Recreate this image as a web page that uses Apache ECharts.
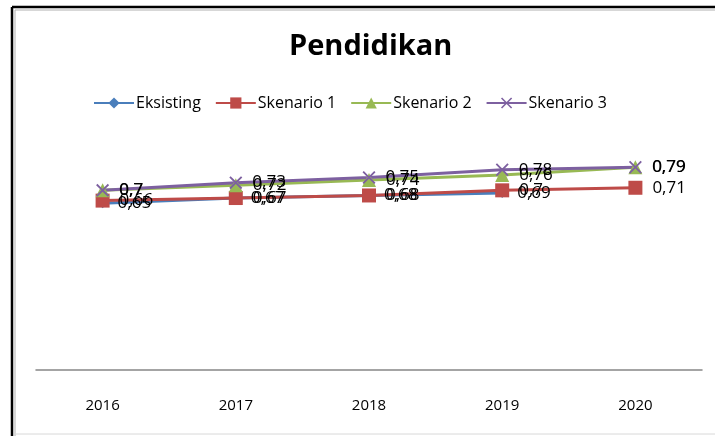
<!DOCTYPE html>
<html>
<head>
<meta charset="utf-8">
<script src="https://cdn.jsdelivr.net/npm/echarts@6/dist/echarts.min.js"></script>
<style>
  html, body { margin: 0; padding: 0; background: #fff; }
  #chart { width: 715px; height: 436px; }
</style>
</head>
<body>
<div id="chart"></div>
<script>
// tahun
const years = ['2016', '2017', '2018', '2019', '2020']
// nilai indeks pendidikan per skenario
const eksisting = [0.65, 0.67, 0.68, 0.69, null]
const skenario1 = [0.66, 0.67, 0.68, 0.7, 0.71]
const skenario2 = [0.7, 0.72, 0.74, 0.76, 0.79]
const skenario3 = [0.7, 0.73, 0.75, 0.78, 0.79]

const fontFamily = '"Open Sans", "Noto Sans", sans-serif'
const crossPath = 'path://M0,1L1,0L5,4L9,0L10,1L6,5L10,9L9,10L5,6L1,10L0,9L4,5Z'

function makeSeries (name, data, color, symbol, size) {
  return {
    name: name,
    type: 'line',
    data: data,
    symbol: symbol,
    symbolSize: size,
    showAllSymbol: true,
    itemStyle: { color: color },
    lineStyle: { color: color, width: 3 },
    label: {
      show: true,
      position: 'right',
      distance: 10,
      color: '#000',
      fontSize: 17,
      fontFamily: fontFamily,
      formatter: function (p) {
        return String(p.value).replace('.', ',')
      }
    },
    emphasis: { disabled: true }
  }
}

const chart = echarts.init(document.getElementById('chart'))
chart.setOption({
  animation: false,
  title: {
    text: 'Pendidikan',
    left: 284,
    top: 27,
    textStyle: {
      color: '#000',
      fontSize: 29,
      fontWeight: 'bold',
      fontFamily: fontFamily
    }
  },
  legend: {
    top: 90,
    left: 88,
    itemGap: 14,
    itemWidth: 40,
    itemHeight: 14,
    textStyle: { color: '#000', fontSize: 16, fontFamily: fontFamily, padding: [0, 0, 0, -3] },
    data: ['Eksisting', 'Skenario 1', 'Skenario 2', 'Skenario 3']
  },
  grid: {
    left: 36,
    right: 13,
    top: 139,
    bottom: 66
  },
  xAxis: {
    type: 'category',
    data: years,
    boundaryGap: true,
    axisLine: { show: true, lineStyle: { color: '#868686', width: 1.5 } },
    axisTick: { show: false },
    axisLabel: {
      color: '#000',
      fontSize: 15,
      margin: 28,
      fontFamily: fontFamily
    }
  },
  yAxis: {
    type: 'value',
    min: 0,
    max: 0.9,
    show: false,
    splitLine: { show: false }
  },
  graphic: [
    { type: 'line', shape: { x1: 12, y1: 7, x2: 12, y2: 436 }, style: { stroke: '#000', lineWidth: 2.5 } },
    { type: 'line', shape: { x1: 12, y1: 7, x2: 715, y2: 7 }, style: { stroke: '#000', lineWidth: 2.5 } },
    { type: 'line', shape: { x1: 15, y1: 10, x2: 15, y2: 436 }, style: { stroke: '#b0b0b0', lineWidth: 1 } },
    { type: 'line', shape: { x1: 15, y1: 10, x2: 715, y2: 10 }, style: { stroke: '#b0b0b0', lineWidth: 1 } },
    { type: 'line', shape: { x1: 15, y1: 434, x2: 715, y2: 434 }, style: { stroke: '#d8d8d8', lineWidth: 1 } }
  ],
  series: [
    makeSeries('Eksisting', eksisting, '#4A7EBB', 'diamond', 10),
    makeSeries('Skenario 1', skenario1, '#BE4B48', 'rect', 14),
    makeSeries('Skenario 2', skenario2, '#98B954', 'triangle', 14),
    makeSeries('Skenario 3', skenario3, '#7D60A0', crossPath, 13)
  ]
})
</script>
</body>
</html>
